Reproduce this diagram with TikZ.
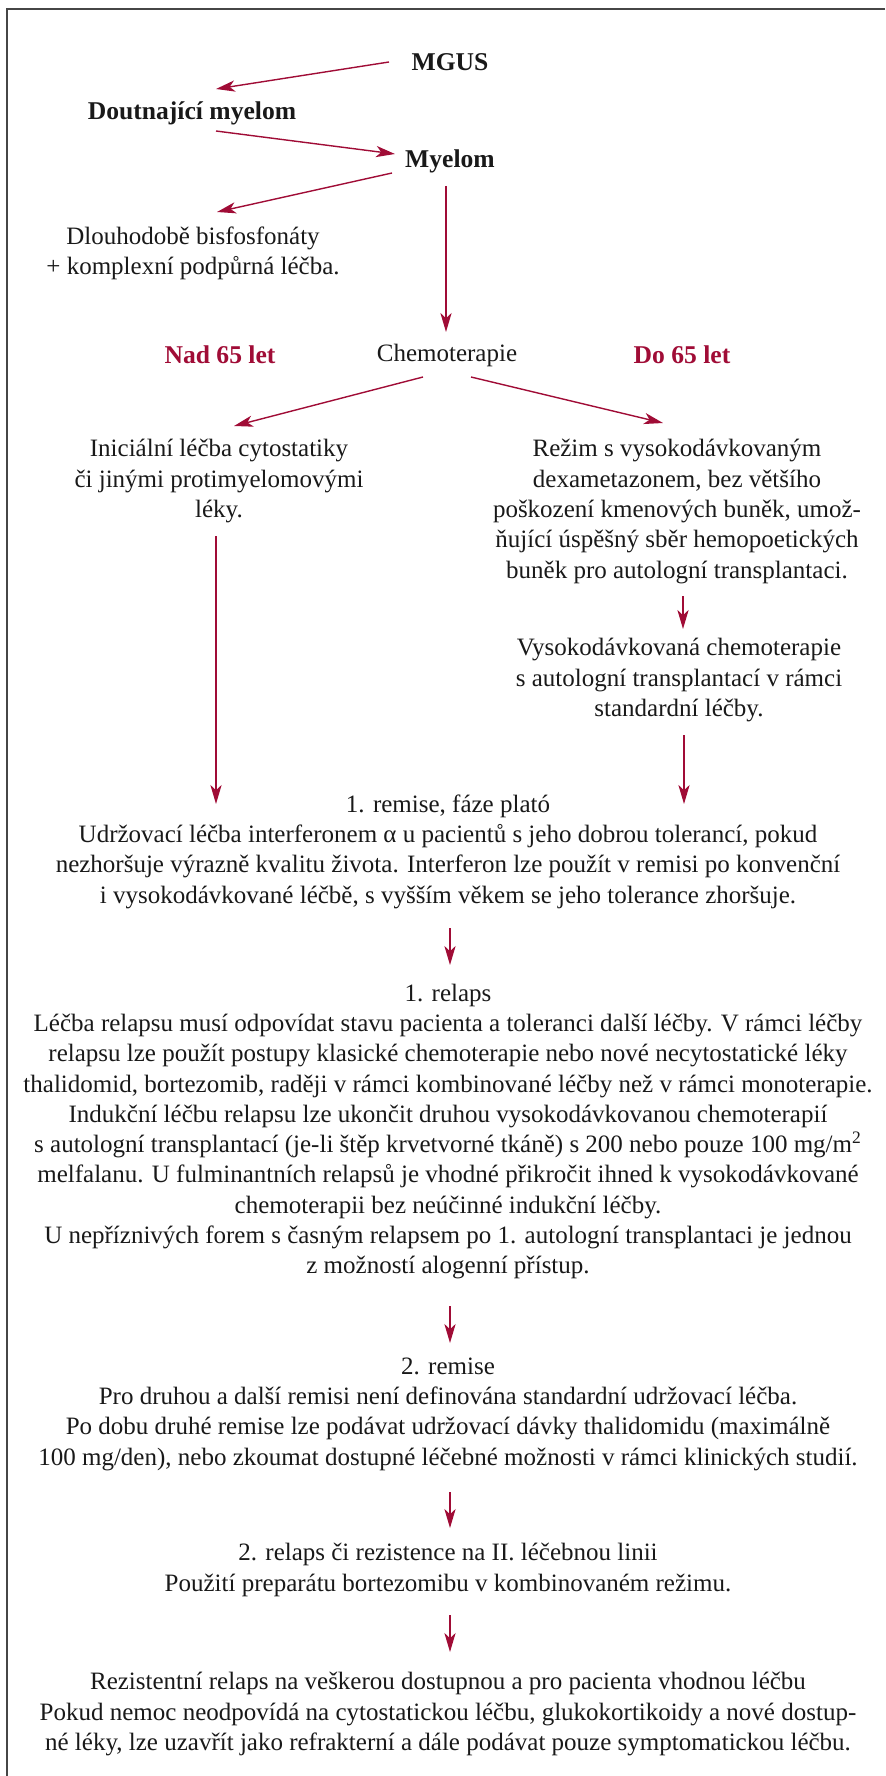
\documentclass[tikz,border=0pt]{standalone}
\usepackage{fontspec}
\setmainfont{Liberation Serif}
\usetikzlibrary{arrows.meta, calc}
\definecolor{vino}{RGB}{160,12,54}
\definecolor{ramgray}{RGB}{70,70,70}

\tikzset{
  txt/.style={align=center, inner sep=0pt, text=black!90, font=\fontsize{12.5}{15.15}\selectfont},
  hd/.style={inner sep=0pt, text=black!90, font=\fontsize{12.8}{15}\selectfont\bfseries},
  age/.style={hd, text=vino},
  arr/.style={-{Stealth[length=9.5pt,width=5.6pt,inset=2.6pt]}, vino, line width=0.7pt}
}

\begin{document}
\begin{tikzpicture}[x=0.5pt, y=-0.5pt]
\useasboundingbox (0,0) rectangle (885,1776);
\draw[ramgray, line width=1pt] (885,9) -- (7,9) -- (7,1776);

% top part
\node[hd] (mgus) at (450,62) {MGUS};
\node[hd] (smold) at (192,113) {Doutnající myelom};
\node[hd] (myel) at (450,161) {Myelom};
\node[txt] (bisf) at (193,253.5) {Dlouhodobě bisfosfonáty\\+ komplexní podpůrná léčba.};

\draw[arr] ($(mgus)+(-61,0)$) -- ($(smold)+(24,-24)$);
\draw[arr] ($(smold)+(24,18)$) -- ($(myel)+(-55,-7)$);
\draw[arr] ($(myel)+(-58,12)$) -- ($(bisf)+(24,-41.5)$);

% chemoterapie
\node[age] (nad) at (220,355) {Nad 65 let};
\node[txt] (chemo) at (447,355) {Chemoterapie};
\node[age] (pod) at (682,355) {Do 65 let};
\draw[arr] ($(myel)+(-4,25)$) -- ($(chemo)+(-1,-23)$);

\node[txt] (init) at (219,481) {Iniciální léčba cytostatiky\\či jinými protimyelomovými\\léky.};
\node[txt] (rezim) at (677,511.5) {Režim s vysokodávkovaným\\dexametazonem, bez většího\\poškození kmenových buněk, umož-\\ňující úspěšný sběr hemopoetických\\buněk pro autologní transplantaci.};
\node[txt] (vdt) at (679,680) {Vysokodávkovaná chemoterapie\\s autologní transplantací v rámci\\standardní léčby.};

\draw[arr] ($(chemo)+(-24,22)$) -- ($(init)+(15,-55)$);
\draw[arr] ($(chemo)+(24,22)$) -- ($(rezim)+(-14,-88.5)$);
\draw[arr] ($(rezim)+(6,84.5)$) -- ($(vdt)+(4,-51)$);

% remise a relapsy
\node[txt] (rem1) at (448,851.5) {1. remise, fáze plató\\Udržovací léčba interferonem α u pacientů s jeho dobrou tolerancí, pokud\\nezhoršuje výrazně kvalitu života. Interferon lze použít v remisi po konvenční\\i vysokodávkované léčbě, s vyšším věkem se jeho tolerance zhoršuje.};
\draw[arr] ($(init)+(-3,55)$) -- ($(rem1)+(-232,-47.5)$);
\draw[arr] ($(vdt)+(5,55)$) -- ($(rem1)+(236,-47.5)$);

\node[txt] (rel1) at (448,1131.5) {1. relaps\\Léčba relapsu musí odpovídat stavu pacienta a toleranci další léčby. V rámci léčby\\relapsu lze použít postupy klasické chemoterapie nebo nové necytostatické léky\\thalidomid, bortezomib, raději v rámci kombinované léčby než v rámci monoterapie.\\Indukční léčbu relapsu lze ukončit druhou vysokodávkovanou chemoterapií\\s autologní transplantací (je-li štěp krvetvorné tkáně) s 200 nebo pouze 100 mg/m\textsuperscript{2}\\melfalanu. U fulminantních relapsů je vhodné přikročit ihned k vysokodávkované\\chemoterapii bez neúčinné indukční léčby.\\U nepříznivých forem s časným relapsem po 1. autologní transplantaci je jednou\\z možností alogenní přístup.};
\draw[arr] ($(rem1)+(2,76.5)$) -- ($(rel1)+(2,-166.5)$);

\node[txt] (rem2) at (448,1414) {2. remise\\Pro druhou a další remisi není definována standardní udržovací léčba.\\Po dobu druhé remise lze podávat udržovací dávky thalidomidu (maximálně\\100 mg/den), nebo zkoumat dostupné léčebné možnosti v rámci klinických studií.};
\draw[arr] ($(rel1)+(2,174.5)$) -- ($(rem2)+(2,-71)$);

\node[txt] (rel2) at (448,1570) {2. relaps či rezistence na II. léčebnou linii\\Použití preparátu bortezomibu v kombinovaném režimu.};
\draw[arr] ($(rem2)+(2,78)$) -- ($(rel2)+(2,-42)$);

\node[txt] (rez) at (448,1714) {Rezistentní relaps na veškerou dostupnou a pro pacienta vhodnou léčbu\\Pokud nemoc neodpovídá na cytostatickou léčbu, glukokortikoidy a nové dostup-\\né léky, lze uzavřít jako refrakterní a dále podávat pouze symptomatickou léčbu.};
\draw[arr] ($(rel2)+(2,45)$) -- ($(rez)+(2,-62)$);
\end{tikzpicture}
\end{document}
